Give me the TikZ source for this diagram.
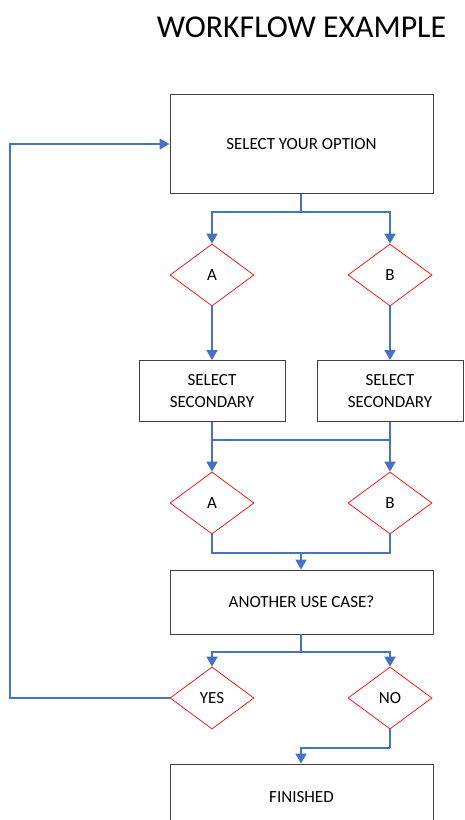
\documentclass[tikz,border=0pt]{standalone}
\usepackage{fontspec}
\setmainfont{Carlito}
\usetikzlibrary{shapes.geometric,arrows.meta}
\definecolor{flowblue}{HTML}{4472C4}
\definecolor{dred}{HTML}{FF0000}
\definecolor{boxgray}{HTML}{404040}
\begin{document}
\begin{tikzpicture}[x=1pt,y=-1pt,
  procbox/.style={draw=boxgray,line width=0.9pt,rectangle,inner sep=0pt,align=center,font=\fontsize{17}{22}\selectfont},
  choice/.style={draw=dred,line width=0.7pt,diamond,inner sep=0pt,minimum width=84pt,minimum height=62pt,font=\fontsize{17}{20}\selectfont},
  flowline/.style={draw=flowblue,line width=1.7pt},
  flowarrow/.style={flowline,-{Triangle[width=11pt,length=10pt]}},
  thinline/.style={draw=flowblue,line width=1.1pt}]
\useasboundingbox (0,0) rectangle (464,820);
\begin{scope}
\clip (0,0) rectangle (464,820);
\node[font=\fontsize{31.8}{36}\selectfont] (title) at (301.5,27) {WORKFLOW EXAMPLE};
\node[procbox,minimum width=263pt,minimum height=99pt] (box1) at (301.5,144) {SELECT YOUR OPTION};
\node[choice] (a1) at (212,275) {A};
\node[choice] (b1) at (390,275) {B};
\node[procbox,minimum width=146pt,minimum height=61pt] (ss1) at (212,391) {SELECT\\SECONDARY};
\node[procbox,minimum width=146pt,minimum height=61pt] (ss2) at (390,391) {SELECT\\SECONDARY};
\node[choice] (a2) at (212,503) {A};
\node[choice] (b2) at (390,503) {B};
\node[procbox,minimum width=263pt,minimum height=64pt] (box3) at (301.5,602) {ANOTHER USE CASE?};
\node[choice] (yes) at (212,698) {YES};
\node[choice] (no) at (390,698) {NO};
\node[procbox,minimum width=263pt,minimum height=66pt] (fin) at (301.5,797) {FINISHED};

\coordinate (j1) at (301,212);
\coordinate (j2a) at (212,440);
\coordinate (j2b) at (390,440);
\coordinate (j3) at (301,553);
\coordinate (j4) at (301,652);
\coordinate (j5) at (390,748);
\coordinate (jl) at (10,698);

\draw[flowline] (box1.south -| j1) -- (j1);
\draw[flowarrow] (j1) -| (a1.north);
\draw[flowarrow] (j1) -| (b1.north);
\draw[flowarrow] (a1.south) -- (ss1.north);
\draw[flowarrow] (b1.south) -- (ss2.north);
\draw[flowarrow] (ss1.south) -- (a2.north);
\draw[flowarrow] (ss2.south) -- (b2.north);
\draw[thinline] (j2a) -- (j2b);
\draw[flowline] (a2.south) |- (j3);
\draw[flowline] (b2.south) |- (j3);
\draw[flowarrow] (j3) -- (box3.north -| j3);
\draw[flowline] (box3.south -| j4) -- (j4);
\draw[flowarrow] (j4) -| (yes.north);
\draw[flowarrow] (j4) -| (no.north);
\draw[flowarrow] (yes.west) -- (jl) |- (box1.west);
\draw[flowline] (no.south) -- (j5);
\draw[flowarrow] (j5) -| (fin.north -| j3);
\end{scope}
\end{tikzpicture}
\end{document}
